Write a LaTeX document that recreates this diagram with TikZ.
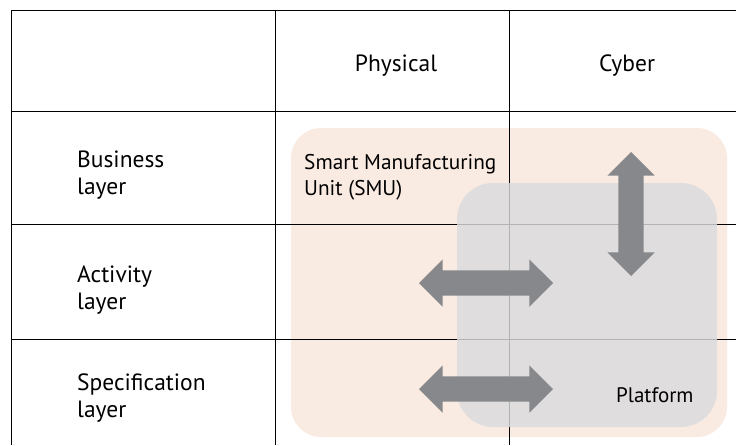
\documentclass[tikz,border=0pt]{standalone}
\usepackage{fontspec}
\setmainfont{PT Sans}
\usepackage{tikz}
\usetikzlibrary{shapes.arrows}
\definecolor{smufill}{RGB}{250,235,226}
\definecolor{platfill}{RGB}{218,219,222}
\definecolor{arrowgray}{RGB}{135,136,140}

\begin{document}
\begin{tikzpicture}[x=1pt, y=-1pt, font=\fontsize{21}{26}\selectfont,
    grid/.style = {draw=black, line width=1pt},
    head/.style = {inner sep=0pt, font=\fontsize{23.5}{27}\selectfont},
    layer/.style = {anchor=west, align=left, inner sep=0pt, font=\fontsize{23.5}{27}\selectfont},
    inbox/.style = {anchor=west, align=left, inner sep=0pt},
    dbl/.style = {double arrow, fill=arrowgray, draw=none, inner sep=12.5pt,
        double arrow head extend=11pt, double arrow head indent=0pt, minimum height=134pt}]
                \useasboundingbox (0,0) rectangle (736,445);
                % regions
                \fill[smufill, rounded corners=30pt] (291,128) rectangle (727,437);
                % table
                \draw[grid] (11,10) -- (736,10);
                \draw[grid] (11,111) -- (736,111);
                \draw[grid] (11,224) -- (736,224);
                \draw[grid] (11,339) -- (736,339);
                \draw[grid] (11,10) -- (11,445);
                \draw[grid] (275,10) -- (275,445);
                \draw[grid] (509,10) -- (509,445);
                \fill[platfill, fill opacity=0.82, rounded corners=36pt] (457,183) rectangle (717,427);
                % labels
                \node[head] (h0) at (396,66) {Physical};
                \node[head] (h1) at (627,66) {Cyber};
                \node[layer] (l0) at (77,175) {Business\\layer};
                \node[layer] (l1) at (77,290) {Activity\\layer};
                \node[layer] (l2) at (77,398) {Specification\\layer};
                \node[inbox, font=\fontsize{21.3}{26}\selectfont] (smu) at (304,177) {Smart Manufacturing\\Unit (SMU)};
                \node[inbox] (plat) at (616,395) {Platform};
                % arrows
                \node[dbl] (a0) at (486,283) {};
                \node[dbl] (a1) at (486,389) {};
                \node[dbl, rotate=90, minimum height=124pt] (a2) at (631,214) {};
            \end{tikzpicture}
\end{document}
